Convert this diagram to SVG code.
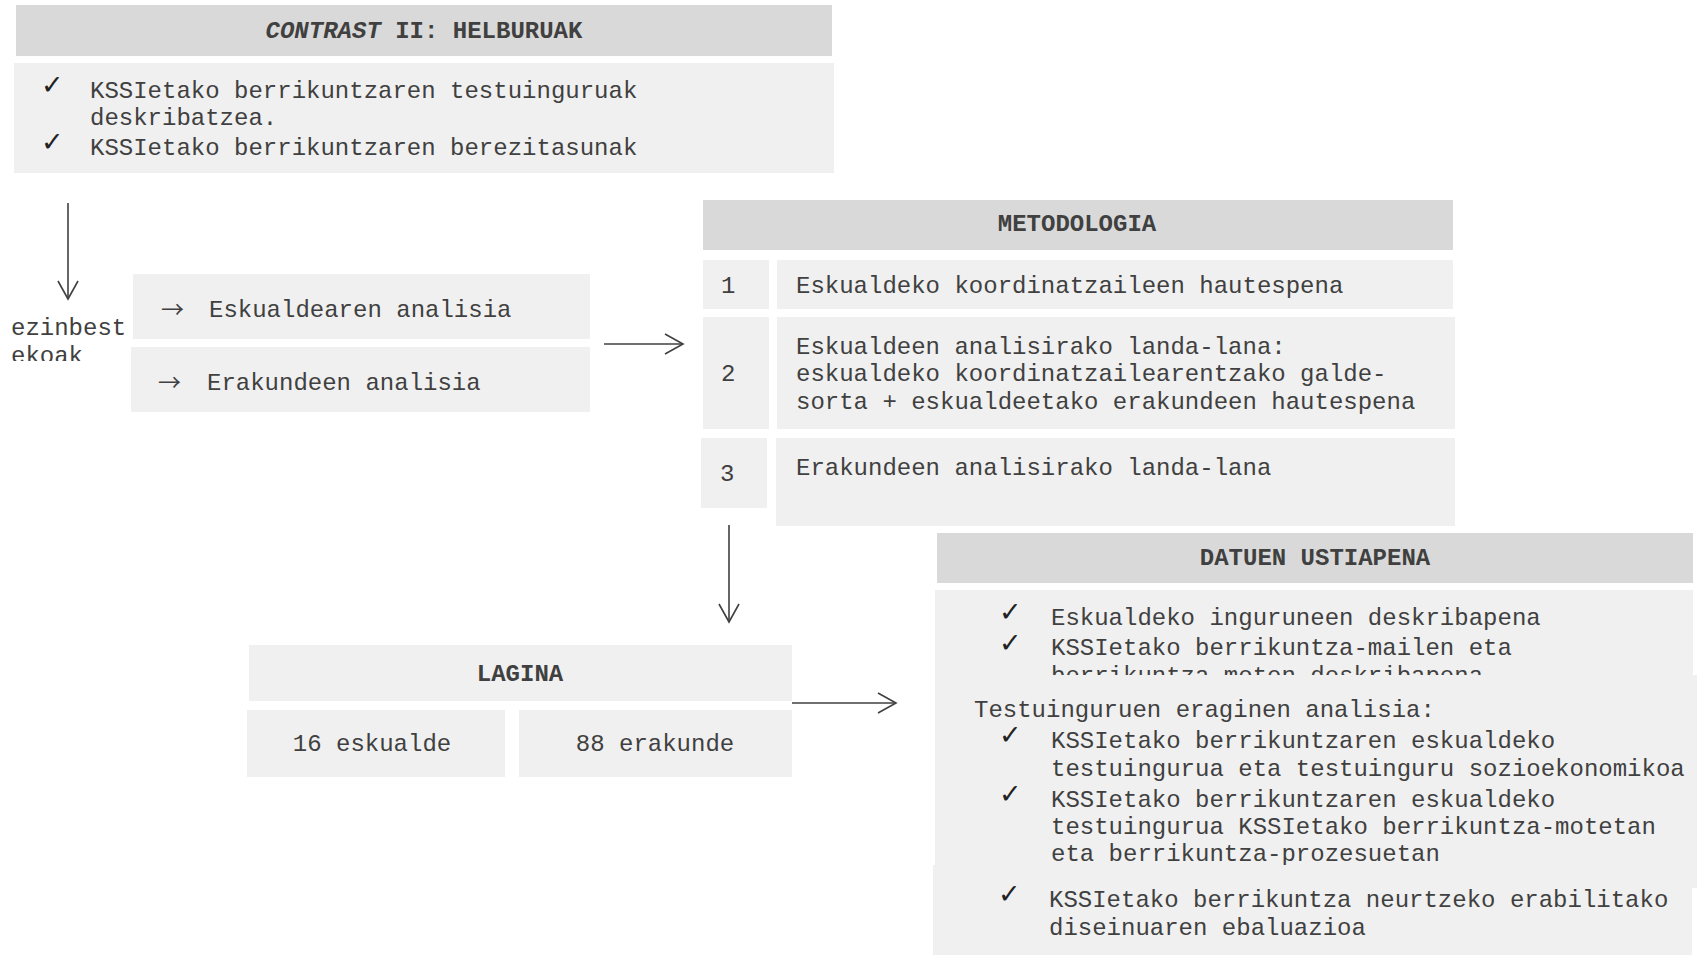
<svg xmlns="http://www.w3.org/2000/svg" width="1697" height="955" viewBox="0 0 1697 955">
<style>
.hdr{fill:#d9d9d9}
.box{fill:#f0f0f0}
.t{font-family:"Liberation Mono","DejaVu Sans Mono",monospace;font-size:24px;fill:#404040}
.b{font-weight:bold}
.c{text-anchor:middle}
.ck{font-family:"DejaVu Sans",sans-serif;font-size:27px;fill:#222}
.ar{font-family:"Noto Sans CJK JP","DejaVu Sans",sans-serif;font-size:23px;fill:#404040}
.ln{stroke:#404040;stroke-width:1.6;fill:none}
</style>
<defs>
<marker id="ah" markerUnits="userSpaceOnUse" markerWidth="24" markerHeight="24" viewBox="-20 -12 24 24" refX="0" refY="0" orient="auto">
<path d="M-18,-10 L0,0 L-18,10" fill="none" stroke="#404040" stroke-width="1.6"/>
</marker>
<clipPath id="clipEz"><rect x="0" y="300" width="130" height="61"/></clipPath>
<clipPath id="clipD1"><rect x="935" y="590" width="758" height="85"/></clipPath>
</defs>
<rect width="1697" height="955" fill="#ffffff"/>

<g id="helburuak">
<rect class="hdr" x="16" y="5" width="816" height="51"/>
<text class="t b c" x="424" y="38"><tspan font-style="italic">CONTRAST</tspan> II: HELBURUAK</text>
<rect class="box" x="14" y="63" width="820" height="110"/>
<text class="ck" x="41" y="94">✓</text>
<text class="t" x="90" y="98">KSSIetako berrikuntzaren testuinguruak</text>
<text class="t" x="90" y="125">deskribatzea.</text>
<text class="ck" x="41" y="151">✓</text>
<text class="t" x="90" y="155">KSSIetako berrikuntzaren berezitasunak</text>
</g>

<g id="ezinbestekoak">
<text class="t" x="11" y="335" clip-path="url(#clipEz)">ezinbest<tspan x="11" y="362.6">ekoak</tspan></text>
</g>

<g id="eskualdearen">
<rect class="box" x="133" y="274" width="457" height="65"/>
<text class="ar" x="161" y="318">→</text>
<text class="t" x="209" y="317">Eskualdearen analisia</text>
</g>

<g id="erakundeen">
<rect class="box" x="131" y="347" width="459" height="65"/>
<text class="ar" x="158" y="391">→</text>
<text class="t" x="207" y="390">Erakundeen analisia</text>
</g>

<g id="metodologia">
<rect class="hdr" x="703" y="200" width="750" height="50"/>
<text class="t b c" x="1077" y="231">METODOLOGIA</text>
</g>

<g id="step1">
<rect class="box" x="703" y="260" width="66" height="49"/>
<rect class="box" x="777" y="260" width="676" height="49"/>
<text class="t" x="721" y="293">1</text>
<text class="t" x="796" y="293">Eskualdeko koordinatzaileen hautespena</text>
</g>

<g id="step2">
<rect class="box" x="703" y="317" width="66" height="112"/>
<rect class="box" x="777" y="317" width="678" height="112"/>
<text class="t" x="721" y="381">2</text>
<text class="t" x="796" y="353.5">Eskualdeen analisirako landa-lana:</text>
<text class="t" x="796" y="381">eskualdeko koordinatzailearentzako galde-</text>
<text class="t" x="796" y="408.5">sorta + eskualdeetako erakundeen hautespena</text>
</g>

<g id="step3">
<rect class="box" x="701" y="438" width="66" height="70"/>
<rect class="box" x="776" y="438" width="679" height="88"/>
<text class="t" x="720" y="481">3</text>
<text class="t" x="796" y="475">Erakundeen analisirako landa-lana</text>
</g>

<g id="lagina">
<rect class="box" x="249" y="645" width="543" height="56"/>
<text class="t b c" x="520" y="681">LAGINA</text>
</g>

<g id="eskualde16">
<rect class="box" x="247" y="710" width="258" height="67"/>
<text class="t c" x="372" y="751">16 eskualde</text>
</g>

<g id="erakunde88">
<rect class="box" x="519" y="710" width="273" height="67"/>
<text class="t c" x="655" y="751">88 erakunde</text>
</g>

<g id="datuen">
<rect class="hdr" x="937" y="533" width="756" height="50"/>
<text class="t b c" x="1315" y="565">DATUEN USTIAPENA</text>
</g>

<g id="datuen1">
<rect class="box" x="935" y="590" width="758" height="85"/>
<g clip-path="url(#clipD1)">
<text class="ck" x="999" y="621">✓</text>
<text class="t" x="1051" y="625">Eskualdeko inguruneen deskribapena</text>
<text class="ck" x="999" y="652">✓</text>
<text class="t" x="1051" y="655">KSSIetako berrikuntza-mailen eta<tspan x="1051" y="682.6">berrikuntza moten deskribapena</tspan></text>
</g>
</g>

<g id="datuen2">
<rect class="box" x="935" y="675" width="762" height="213"/>
<text class="t" x="974" y="717">Testuinguruen eraginen analisia:</text>
<text class="ck" x="999" y="744">✓</text>
<text class="t" x="1051" y="748">KSSIetako berrikuntzaren eskualdeko</text>
<text class="t" x="1051" y="775.6">testuingurua eta testuinguru sozioekonomikoa</text>
<text class="ck" x="999" y="803">✓</text>
<text class="t" x="1051" y="806.5">KSSIetako berrikuntzaren eskualdeko</text>
<text class="t" x="1051" y="834">testuingurua KSSIetako berrikuntza-motetan</text>
<text class="t" x="1051" y="861">eta berrikuntza-prozesuetan</text>
</g>

<g id="datuen3">
<rect class="box" x="933" y="865" width="759" height="90"/>
<text class="ck" x="998" y="903">✓</text>
<text class="t" x="1049" y="907">KSSIetako berrikuntza neurtzeko erabilitako</text>
<text class="t" x="1049" y="934.5">diseinuaren ebaluazioa</text>
</g>

<g id="connectors">
<line class="ln" x1="68" y1="203" x2="68" y2="299" marker-end="url(#ah)"/>
<line class="ln" x1="604" y1="344" x2="683" y2="344" marker-end="url(#ah)"/>
<line class="ln" x1="729" y1="525" x2="729" y2="622" marker-end="url(#ah)"/>
<line class="ln" x1="792" y1="703" x2="896" y2="703" marker-end="url(#ah)"/>
</g>
</svg>
